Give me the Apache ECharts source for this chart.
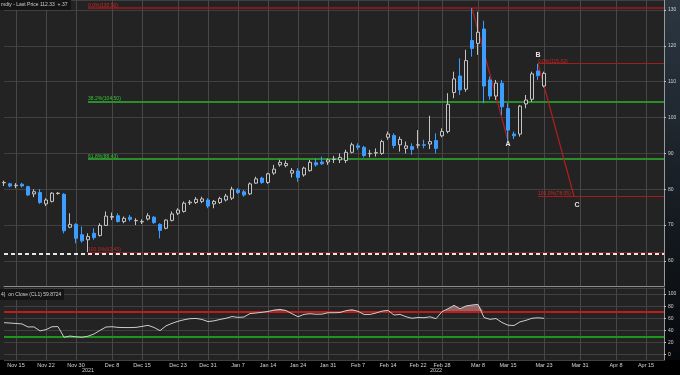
<!DOCTYPE html>
<html><head><meta charset="utf-8">
<script src="https://cdn.jsdelivr.net/npm/echarts@6/dist/echarts.min.js"></script>
<style>
html,body{margin:0;padding:0;width:680px;height:375px;overflow:hidden;}
body{background:
 linear-gradient(#000,#000) 0 360px/100% 15px no-repeat,
 linear-gradient(to bottom,#2c3742,#06080b) 664px 0/16px 360px no-repeat,
 #232323;}
#c{width:680px;height:375px;}
</style></head><body><div id="c"></div>
<script>
const dates = ['Nov 11','Nov 12','Nov 15','Nov 16','Nov 17','Nov 18','Nov 19','Nov 22','Nov 23','Nov 24','Nov 26','Nov 29','Nov 30',
'Dec 1','Dec 2','Dec 3','Dec 6','Dec 7','Dec 8','Dec 9','Dec 10','Dec 13','Dec 14','Dec 15','Dec 16','Dec 17','Dec 20','Dec 21','Dec 22','Dec 23','Dec 27','Dec 28','Dec 29','Dec 30','Dec 31',
'Jan 3','Jan 4','Jan 5','Jan 6','Jan 7','Jan 10','Jan 11','Jan 12','Jan 13','Jan 14','Jan 18','Jan 19','Jan 20','Jan 21','Jan 24','Jan 25','Jan 26','Jan 27','Jan 28','Jan 31',
'Feb 1','Feb 2','Feb 3','Feb 4','Feb 7','Feb 8','Feb 9','Feb 10','Feb 11','Feb 14','Feb 15','Feb 16','Feb 17','Feb 18','Feb 22','Feb 23','Feb 24','Feb 25','Feb 28',
'Mar 1','Mar 2','Mar 3','Mar 4','Mar 7','Mar 8','Mar 9','Mar 10','Mar 11','Mar 14','Mar 15','Mar 16','Mar 17','Mar 18','Mar 21','Mar 22','Mar 23',
'Mar 24','Mar 25','Mar 28','Mar 29','Mar 30','Mar 31','Apr 1','Apr 4','Apr 5','Apr 6','Apr 7','Apr 8','Apr 11','Apr 12','Apr 13','Apr 14','Apr 15','Apr 18','Apr 19','Apr 20'];

const opens = [81.8,81.5,81.0,81.4,80.7,78.7,79.1,75.9,76.6,78.8,
78.6,69.4,70.2,67.3,65.9,67.7,67.1,69.9,72.2,72.6,
71.0,72.2,71.2,70.9,71.7,72.2,70.2,69.1,71.3,73.3,
73.8,76.2,76.3,76.6,77.0,75.9,76.3,77.0,77.5,79.8,
79.3,78.7,81.7,83.1,81.9,84.5,86.8,86.6,84.5,85.1,
84.0,85.2,87.4,87.6,87.6,88.3,88.2,88.0,90.3,92.1,
91.7,89.9,90.1,90.0,94.5,95.0,92.4,91.4,91.9,92.3,
92.4,92.6,93.6,94.9,96.1,107.0,111.6,107.9,121.5,120.7,
124.7,110.5,106.0,109.6,102.5,95.4,95.4,103.8,105.1,113.0,
108.8];
const closes = [81.9,80.9,81.1,80.9,78.4,79.3,76.3,77.0,78.9,78.9,
68.4,70.2,66.3,65.6,66.8,66.5,69.9,72.5,72.4,71.0,
71.9,71.6,71.3,71.0,72.6,70.7,68.5,71.4,73.1,74.2,
76.1,76.4,77.2,77.3,75.3,76.6,77.4,78.1,80.0,79.1,
78.4,81.5,82.9,81.9,84.3,85.6,87.5,87.2,85.2,83.3,
85.9,87.5,86.8,87.1,88.2,88.4,88.9,90.3,92.4,91.7,
89.4,90.0,90.2,93.3,95.4,92.2,93.9,92.1,91.1,92.4,
92.3,93.3,91.4,96.1,103.7,110.8,107.7,115.9,119.3,123.8,
108.8,106.0,109.6,103.0,96.5,94.9,103.2,104.9,112.2,111.7,
112.33];
const lows = [80.9,80.5,80.3,80.5,78.1,77.8,75.9,75.3,76.3,78.5,
67.7,69.1,64.9,65.1,62.43,65.9,66.8,69.8,71.4,70.7,
70.5,71.0,70.0,70.3,71.3,70.3,66.3,68.8,71.0,72.8,
73.5,75.6,75.9,76.1,74.7,74.7,75.9,76.6,77.0,78.7,
77.9,78.4,81.5,81.5,81.5,84.0,86.3,86.1,83.3,82.1,
83.5,84.9,86.3,86.8,86.8,87.3,87.3,87.3,90.0,91.0,
88.9,88.9,89.1,89.6,93.8,91.4,90.5,90.0,89.6,91.4,
91.4,91.2,90.0,94.5,95.6,105.4,106.3,107.2,117.0,117.5,
104.0,105.0,104.9,100.7,93.53,94.0,94.7,102.6,104.4,110.5,
108.4];
const highs = [82.4,81.8,81.7,81.8,81.0,80.0,80.0,77.5,79.2,79.2,
78.9,73.3,70.5,69.6,67.7,69.1,70.5,73.8,73.5,73.3,
72.4,72.8,71.9,71.6,73.3,72.5,70.5,71.6,73.8,74.7,
76.6,77.0,77.8,77.9,77.5,77.0,77.9,78.7,80.7,80.3,
79.8,81.9,83.5,83.5,84.6,86.8,88.2,88.0,85.9,85.9,
86.3,88.2,88.6,89.1,88.6,89.3,90.0,91.0,93.0,92.8,
92.1,91.0,91.4,93.8,96.1,95.6,94.7,93.3,92.8,96.5,
93.8,100.5,95.6,97.0,106.8,112.8,116.5,118.9,130.5,129.5,
127.0,111.4,110.5,110.5,104.0,96.1,103.5,106.3,112.8,115.02,
112.8];
const rsi = [52.7,52.1,51.4,50.6,45.6,45.7,39.1,41.2,46.0,46.2,
28.6,30.6,29.3,28.5,30.3,34.0,40.0,45.5,46.0,44.9,
44.6,44.6,44.9,46.5,48.3,44.8,39.5,47.4,51.6,55.0,
57.5,59.3,59.7,58.0,54.5,55.7,58.0,60.0,62.8,61.5,
62.0,67.8,68.7,69.8,71.2,73.5,74.6,72.7,67.5,62.5,
66.4,67.5,66.6,66.8,69.1,69.1,69.5,72.5,74.0,71.5,
66.3,66.3,68.7,71.8,73.0,65.3,66.4,62.5,60.0,61.3,
60.9,62.4,59.3,70.8,75.8,81.3,75.7,80.3,81.8,83.0,
61.2,58.2,59.5,53.0,48.5,48.0,54.0,56.6,60.0,60.8,
59.8724];
const tickLabels = ['Nov 15','Nov 22','Nov 30','Dec 8','Dec 15','Dec 23','Dec 31','Jan 7','Jan 14','Jan 24','Jan 31',
'Feb 7','Feb 14','Feb 22','Feb 28','Mar 8','Mar 15','Mar 23','Mar 31','Apr 8','Apr 15'];
const yearAt = ['Dec 2','Feb 25'];
const yearNames = ['2021','2022'];
const fibStart = 'Dec 2';
const fibLevels = [130.50,104.50,88.43,62.43];
const fibTexts = ['0.0%(130.50)','38.2%(104.50)','61.8%(88.43)','100.0%(62.43)'];
const abcStart = 'Mar 22';
const abcLevels = [115.02,78.05];
const abcTexts = ['0.0%(115.02)','100.0%(78.05)'];
const wavePts = [['Mar 7',130.50],['Mar 15',93.53],['Mar 22',115.02],['Mar 30',78.05]];
const waveNames = ['A','B','C'];
const alertLevel = 62;
const lastPrice = 112.33, lastRsi = 59.8724;
const rsiBands = [70,30];

const FONT = 'Liberation Sans';
const lastCat = dates[dates.length-1];
const isTick = (i,v) => tickLabels.indexOf(v) >= 0;
const candles = opens.map((o,i)=>[o,closes[i],lows[i],highs[i]]);
const fibColors = ['#a01a1a','#2a8f2a','#2a8f2a','#8e1a1a'];
const fibWidths = [1.5,2,2,1.2];
const fibTextColors = ['#d02424','#3cc03c','#3cc03c','#c82222'];

const fibLines = fibLevels.map((v,k)=>[
  {coord:[fibStart,v], lineStyle:{color:fibColors[k],width:fibWidths[k],type:'solid'},
   label:{show:true,formatter:fibTexts[k],color:fibTextColors[k],position:'insideStartTop',distance:[0,0],fontSize:5,fontFamily:FONT}},
  {coord:[lastCat,v]}]);
const abcLines = abcLevels.map((v,k)=>[
  {coord:[abcStart,v], lineStyle:{color:'#a01e1e',width:1.2,type:'solid'},
   label:{show:true,formatter:abcTexts[k],color:'#d02424',position:'insideStartTop',distance:[0,0],fontSize:5,fontFamily:FONT}},
  {coord:[lastCat,v]}]);
const waveLines = [[0,1],[2,3]].map(p=>[
  {coord:wavePts[p[0]], lineStyle:{color:'#b01e1e',width:1.2,type:'solid'}, label:{show:false}},
  {coord:wavePts[p[1]]}]);

const chart = echarts.init(document.getElementById('c'));
chart.setOption({
  animation:false,
  backgroundColor:'transparent',
  textStyle:{fontFamily:FONT},
  grid:[{left:4,right:16,top:0,height:286},{left:4,right:16,top:288,height:72}],
  xAxis:[
    {type:'category',gridIndex:0,data:dates,boundaryGap:false,
     axisLine:{show:true,lineStyle:{color:'#8c8c8c',width:1}},axisTick:{show:false},axisLabel:{show:false},
     splitLine:{show:true,interval:isTick,lineStyle:{color:'#474747',width:1}}},
    {type:'category',gridIndex:1,data:dates,boundaryGap:false,
     axisLine:{show:false},axisTick:{show:false},
     axisLabel:{show:true,interval:isTick,fontSize:5.5,color:'#d4d4d4',margin:2,fontFamily:FONT},
     splitLine:{show:true,interval:isTick,lineStyle:{color:'#474747',width:1}}},
    {type:'category',gridIndex:1,data:dates,boundaryGap:false,position:'bottom',
     axisLine:{show:false},axisTick:{show:false},splitLine:{show:false},
     axisLabel:{show:true,interval:(i,v)=>yearAt.indexOf(v)>=0,formatter:v=>{const k=yearAt.indexOf(v);return k>=0?yearNames[k]:'';},
       fontSize:5.5,color:'#cfcfcf',margin:7.5,fontFamily:FONT}}
  ],
  yAxis:[
    {type:'value',gridIndex:0,position:'right',min:53,max:132.8,splitNumber:8,
     axisLine:{show:true,lineStyle:{color:'#9a9a9a'}},axisTick:{show:true,length:2,lineStyle:{color:'#c0c0c0'}},
     axisLabel:{fontSize:5,color:'#d0d0d0',margin:4,showMinLabel:false,showMaxLabel:false,fontFamily:FONT},
     splitLine:{show:true,lineStyle:{color:'#404040',width:1}}},
    {type:'value',gridIndex:1,position:'right',min:-9,max:110,splitNumber:6,
     axisLine:{show:true,lineStyle:{color:'#9a9a9a'}},axisTick:{show:true,length:2,lineStyle:{color:'#c0c0c0'}},
     axisLabel:{fontSize:5,color:'#d0d0d0',margin:4,showMinLabel:false,showMaxLabel:false,fontFamily:FONT},
     splitLine:{show:true,lineStyle:{color:'#404040',width:1}}}
  ],
  series:[
    {type:'candlestick',xAxisIndex:0,yAxisIndex:0,data:candles,barWidth:4,clip:false,z:3,
     itemStyle:{color:'#232323',color0:'#3c9dff',borderColor:'#c4c4c4',borderColor0:'#3c9dff',borderWidth:1},
     markLine:{silent:true,symbol:['none','none'],z:1,animation:false,
       data:[...fibLines,...abcLines,...waveLines,
         {yAxis:alertLevel,lineStyle:{color:'#e6e6e6',width:2,type:[4,3]},label:{show:false}}]},
     markPoint:{silent:true,symbol:'circle',symbolSize:0,animation:false,
       label:{show:true,color:'#e8e8e8',fontWeight:'bold',fontSize:7,fontFamily:FONT},
       data:[
         {coord:wavePts[1],label:{formatter:waveNames[0],position:'bottom',distance:0}},
         {coord:wavePts[2],label:{formatter:waveNames[1],position:'top',distance:5}},
         {coord:wavePts[3],label:{formatter:waveNames[2],position:'bottom',distance:5,offset:[3,0]}}]}
    },
    {type:'line',xAxisIndex:0,yAxisIndex:0,data:[],
     markLine:{silent:true,symbol:['none','none'],z:6,animation:false,
       data:[{yAxis:lastPrice,lineStyle:{opacity:0},
         label:{show:true,position:'end',distance:1,formatter:String(lastPrice),backgroundColor:'#e4e4e4',color:'#111',fontSize:5,padding:[2,1,1,1],fontFamily:FONT}}]}},
    {type:'line',xAxisIndex:1,yAxisIndex:1,data:rsi.map(v=>v>rsiBands[0]?v:rsiBands[0]),symbol:'none',z:2,
     lineStyle:{width:0},areaStyle:{origin:rsiBands[0],color:'rgba(232,150,150,0.8)'}},
    {type:'line',xAxisIndex:1,yAxisIndex:1,data:rsi.map(v=>v<rsiBands[1]?v:rsiBands[1]),symbol:'none',z:2,
     lineStyle:{width:0},areaStyle:{origin:rsiBands[1],color:'rgba(150,225,150,0.85)'}},
    {type:'line',xAxisIndex:1,yAxisIndex:1,data:rsi,symbol:'none',z:4,
     lineStyle:{color:'#cdcdcd',width:1},
     markLine:{silent:true,symbol:['none','none'],z:3,animation:false,
       data:[
         {yAxis:rsiBands[0],lineStyle:{color:'#c01c1c',width:2,type:'solid'},label:{show:false}},
         {yAxis:rsiBands[1],lineStyle:{color:'#1d961d',width:2,type:'solid'},label:{show:false}},
         {yAxis:lastRsi,lineStyle:{opacity:0},
          label:{show:true,position:'end',distance:1,formatter:String(lastRsi),backgroundColor:'#e4e4e4',color:'#111',fontSize:5,padding:[2,1,1,1],fontFamily:FONT}}]}}
  ],
  graphic:[
    {type:'rect',left:0,top:0,z:100,shape:{width:71,height:10},style:{fill:'#141414'}},
    {type:'text',left:1,top:2.5,z:101,style:{text:'mdty - Last Price 112.33  +.37',fill:'#cfcfcf',fontSize:5,fontFamily:FONT}},
    {type:'rect',left:0,top:289,z:100,shape:{width:64,height:11},style:{fill:'#141414'}},
    {type:'text',left:1,top:292,z:101,style:{text:'4)  on Close (CL1) 59.8724',fill:'#cfcfcf',fontSize:5,fontFamily:FONT}}
  ]
});
</script></body></html>
